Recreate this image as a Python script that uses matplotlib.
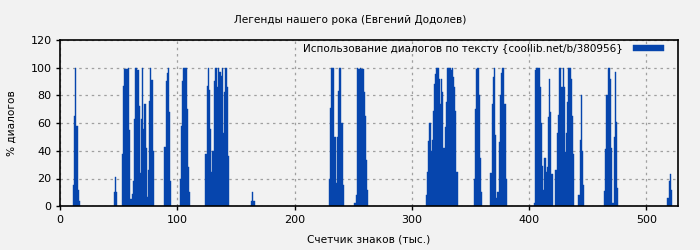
import numpy as np
import matplotlib
matplotlib.use("Agg")
import matplotlib.pyplot as plt

# chart texts
title = "Легенды нашего рока (Евгений Додолев)"
x_label = "Счетчик знаков (тыс.)"
y_label = "% диалогов"
series_name = "Использование диалогов по тексту {coollib.net/b/380956}"

# bar groups: first position (thousands of chars) and consecutive values (%)
group_starts = [11, 46, 53, 89, 102, 124, 163, 229, 235, 251,
                312, 353, 367, 404, 422.5, 442, 464, 518]
group_values = [
    [15, 65, 100, 58, 12, 4],
    [10, 21, 10],
    [38, 87, 99, 99, 99, 100, 55, 5, 9, 18, 63, 100, 100, 98, 72, 24, 63,
     100, 56, 74, 42, 7, 26, 76, 100, 91, 40],
    [43, 90, 96, 100, 68, 18],
    [20, 58, 90, 100, 100, 100, 70, 28, 10],
    [38, 87, 100, 84, 56, 25, 40, 90, 100, 100, 86, 100, 97, 94, 100, 53,
     82, 100, 86, 36],
    [4, 10, 4],
    [20, 71, 100, 100, 100, 50],
    [17, 50, 83, 100, 100, 60, 15],
    [2, 8, 100, 99, 99, 100, 99, 99, 82, 65, 33, 12],
    [8, 25, 47, 60, 40, 48, 69, 88, 95, 100, 100, 92, 74, 92, 82, 42, 57,
     75, 100, 100, 100, 98, 100, 93, 86, 69, 25],
    [20, 70, 99, 100, 80, 35, 10],
    [24, 74, 93, 100, 51, 6, 10, 46, 80, 96, 100, 100, 74, 20],
    [2, 98, 100, 100, 100, 86, 60, 29, 12, 35, 25, 28, 64, 92, 68, 23],
    [26, 53, 66, 100, 100, 86, 100, 86, 39, 53, 75, 100, 100, 92, 65, 38],
    [8, 48, 80, 40, 15],
    [11, 41, 80, 100, 100, 92, 42, 2, 50, 97, 61, 13],
    [6, 18, 23, 12],
]

x = np.concatenate([s + np.arange(len(v)) for s, v in zip(group_starts, group_values)])
y = np.concatenate([np.array(v, dtype=float) for v in group_values])

bg = "#f2f2f2"
bar_color = "#0645ad"

fig = plt.figure(figsize=(7, 2.5), dpi=100, facecolor=bg)
ax = fig.add_axes([0.0857, 0.175, 0.8829, 0.666])
ax.set_facecolor(bg)

ax.bar(x, y, width=1.0, align="edge", color=bar_color, edgecolor=bar_color,
       linewidth=0.3, label=series_name)

ax.set_xlim(0, 527)
ax.set_ylim(0, 120)
ax.set_xticks([0, 100, 200, 300, 400, 500])
ax.set_yticks([0, 20, 40, 60, 80, 100, 120])
ax.grid(True, color="#a0a0a0", linestyle=(0, (2, 3)), linewidth=0.9)
ax.set_axisbelow(True)
for sp in ax.spines.values():
    sp.set_linewidth(1.2)
ax.tick_params(labelsize=8, length=3, width=1, pad=3)

fig.suptitle(title, fontsize=7.6, y=0.94)
ax.set_xlabel(x_label, fontsize=7.6, labelpad=7)
ax.set_ylabel(y_label, fontsize=7.6, labelpad=10)

ax.legend(loc="upper right", bbox_to_anchor=(0.988, 1.015), frameon=False,
          fontsize=7.5, markerfirst=False, handlelength=3.0, handleheight=0.6,
          borderaxespad=0.2, handletextpad=1.0)

fig.savefig("out.png", dpi=100, facecolor=bg)
